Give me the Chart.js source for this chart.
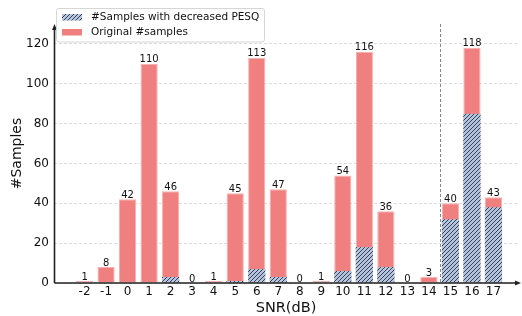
<!DOCTYPE html>
<html>
<head>
<meta charset="utf-8">
<script src="https://cdn.jsdelivr.net/npm/chart.js@4"></script>
<style>
  html, body { margin: 0; padding: 0; background: #fff; }
</style>
</head>
<body>
<canvas id="myChart" width="522" height="316"></canvas>
<script>
const snrLevels = [-2, -1, 0, 1, 2, 3, 4, 5, 6, 7, 8, 9, 10, 11, 12, 13, 14, 15, 16, 17];
const originalCounts = [1, 8, 42, 110, 46, 0, 1, 45, 113, 47, 0, 1, 54, 116, 36, 0, 3, 40, 118, 43];
const decreasedCounts = [0, 0, 0, 0, 3, 0, 0, 1, 7, 3, 0, 0, 6, 18, 8, 0, 0, 32, 85, 38];
const yTicks = [0, 20, 40, 60, 80, 100, 120];
const seriesNames = ['#Samples with decreased PESQ', 'Original #samples'];
const splitAt = 14.5;

const FONT = 'DejaVu Sans';
const canvas = document.getElementById('myChart');
const ctx = canvas.getContext('2d');

// diagonal hatch like matplotlib '////'
function makeHatch() {
    const c = document.createElement('canvas');
    c.width = 4; c.height = 4;
    const g = c.getContext('2d');
    g.fillStyle = '#b6c4db';
    g.fillRect(0, 0, 4, 4);
    g.strokeStyle = '#34425f';
    g.lineWidth = 1;
    g.beginPath();
    g.moveTo(0, 4); g.lineTo(4, 0);
    g.moveTo(-1, 1); g.lineTo(1, -1);
    g.moveTo(3, 5); g.lineTo(5, 3);
    g.stroke();
    return ctx.createPattern(c, 'repeat');
}
const hatch = makeHatch();

const decorations = {
    id: 'decorations',
    beforeDatasetsDraw(chart) {
        const { ctx, chartArea, scales } = chart;
        const x = Math.round(scales.x.getPixelForValue(splitAt)) + 0.5;
        ctx.save();
        ctx.strokeStyle = '#888';
        ctx.lineWidth = 1;
        ctx.setLineDash([3, 2]);
        ctx.beginPath();
        ctx.moveTo(x, chartArea.top);
        ctx.lineTo(x, chartArea.bottom);
        ctx.stroke();
        ctx.restore();
    },
    afterDatasetsDraw(chart) {
        const { ctx } = chart;
        const meta = chart.getDatasetMeta(1);
        ctx.save();
        ctx.fillStyle = '#111';
        ctx.font = '10px "' + FONT + '"';
        ctx.textAlign = 'center';
        ctx.textBaseline = 'alphabetic';
        meta.data.forEach((el, i) => {
            ctx.fillText(String(originalCounts[i]), el.x, el.y - 1.5);
        });
        ctx.restore();
    },
    afterDraw(chart) {
        const { ctx, chartArea } = chart;
        const l = chartArea.left + 0.5, b = chartArea.bottom;
        ctx.save();
        // axes with arrows
        ctx.strokeStyle = '#222';
        ctx.fillStyle = '#222';
        ctx.lineWidth = 1.6;
        ctx.beginPath();
        ctx.moveTo(l, b);
        ctx.lineTo(l, 28);
        ctx.moveTo(l, b);
        ctx.lineTo(517, b);
        ctx.stroke();
        ctx.beginPath();
        ctx.moveTo(l, 24); ctx.lineTo(l - 2.5, 30); ctx.lineTo(l + 2.5, 30); ctx.closePath();
        ctx.moveTo(521, b); ctx.lineTo(515, b - 2.5); ctx.lineTo(515, b + 2.5); ctx.closePath();
        ctx.fill();

        // legend
        ctx.lineWidth = 1;
        ctx.strokeStyle = '#d6d6d6';
        ctx.fillStyle = 'rgba(255,255,255,0.85)';
        ctx.beginPath();
        ctx.roundRect(56.5, 8.5, 208, 33.5, 2.5);
        ctx.fill();
        ctx.stroke();
        ctx.fillStyle = hatch;
        ctx.fillRect(62, 14, 20, 6.5);
        ctx.fillStyle = '#f08080';
        ctx.fillRect(62, 29, 20, 6.5);
        ctx.fillStyle = '#111';
        ctx.font = '10.5px "' + FONT + '"';
        ctx.textAlign = 'left';
        ctx.textBaseline = 'middle';
        ctx.fillText(seriesNames[0], 91, 17.5);
        ctx.fillText(seriesNames[1], 91, 32.5);
        ctx.restore();
    }
};

const config = {
    type: 'bar',
    data: {
        labels: snrLevels,
        datasets: [{
            label: seriesNames[0],
            data: decreasedCounts,
            backgroundColor: hatch,
            borderWidth: 0,
            grouped: false,
            categoryPercentage: 0.8,
            barPercentage: 1
        }, {
            label: seriesNames[1],
            data: originalCounts,
            backgroundColor: '#f08080',
            borderColor: '#f6b0b0',
            borderWidth: 1,
            grouped: false,
            categoryPercentage: 0.8,
            barPercentage: 1
        }]
    },
    options: {
        responsive: false,
        animation: false,
        devicePixelRatio: 1,
        layout: { padding: { top: 24, right: 4, left: 0, bottom: 0 } },
        plugins: {
            legend: { display: false },
            tooltip: { enabled: false }
        },
        scales: {
            x: {
                type: 'linear',
                min: -3.42,
                max: 18.14,
                offset: false,
                afterBuildTicks: s => { s.ticks = snrLevels.map(v => ({ value: v })); },
                afterFit: s => { s.height = 33; },
                grid: { display: false, offset: false, drawTicks: false },
                border: { display: false },
                ticks: {
                    autoSkip: false,
                    maxRotation: 0,
                    padding: 2,
                    color: '#111',
                    font: { family: FONT, size: 12 },
                    callback: v => String(v)
                },
                title: {
                    display: true,
                    text: 'SNR(dB)',
                    color: '#111',
                    font: { family: FONT, size: 14.5 },
                    padding: { top: 0, bottom: -1 }
                }
            },
            y: {
                min: 0,
                max: 130,
                afterBuildTicks: s => { s.ticks = yTicks.map(v => ({ value: v })); },
                afterFit: s => { s.width = 54; },
                grid: { color: '#d4d4d4', lineWidth: 0.8, drawTicks: false },
                border: { display: false, dash: [3, 2] },
                ticks: {
                    padding: 5,
                    color: '#111',
                    font: { family: FONT, size: 12 }
                },
                title: {
                    display: true,
                    text: '#Samples',
                    color: '#111',
                    font: { family: FONT, size: 14 },
                    padding: { top: 9, bottom: 0 }
                }
            }
        }
    },
    plugins: [decorations]
};

window.myBars = new Chart(ctx, config);
</script>
</body>
</html>
